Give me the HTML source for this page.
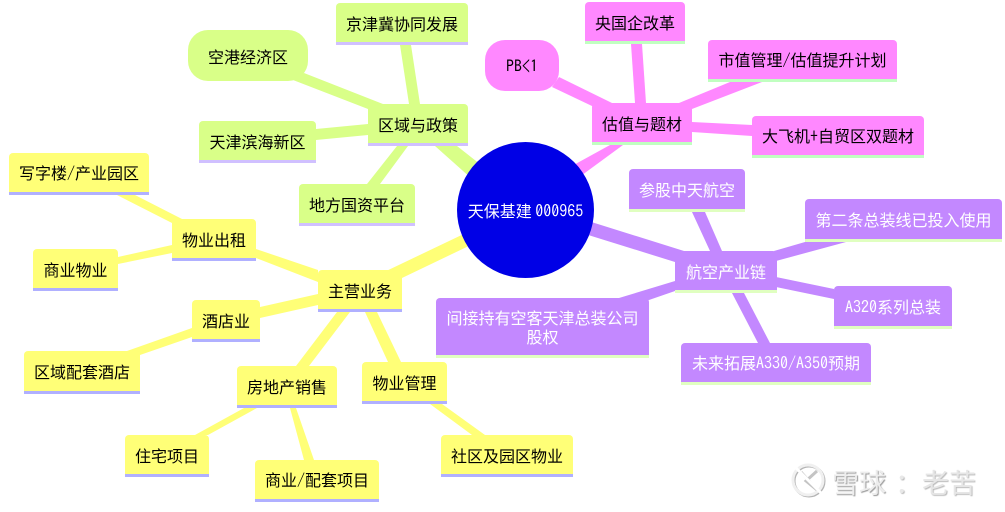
<!DOCTYPE html>
<html><head><meta charset="utf-8">
<style>
html,body{margin:0;padding:0;background:#fff;}
#c{position:relative;width:1005px;height:512px;overflow:hidden;background:#fff;font-family:"WenQuanYi Zen Hei","Noto Sans CJK SC","Liberation Sans",sans-serif;font-size:16px;color:#000;}
svg{position:absolute;left:0;top:0;}
i{font-style:normal;font-family:"IPAGothic","Liberation Mono",monospace;}
.b{position:absolute;box-sizing:border-box;display:flex;align-items:center;justify-content:center;text-align:center;border-radius:4px 4px 0 0;white-space:nowrap;line-height:19px;border-bottom-style:solid;border-bottom-width:3px;padding-top:1px;}
.g{background:#d9ff88;border-bottom-color:#d0c0ff;}
.m{background:#ff88ff;border-bottom-color:#c0ffc0;}
.p{background:#c388ff;border-bottom-color:#e0ffc0;color:#fff;}
.y{background:#ffff77;border-bottom-color:#b0b0ff;}
.r{border-radius:20px;border-bottom:0;}
#hub{position:absolute;left:457px;top:142px;width:137px;height:136px;border-radius:50%;background:#0000e6;color:#fff;display:flex;align-items:center;justify-content:center;white-space:pre;}
.w{position:absolute;font-size:27px;line-height:34px;white-space:nowrap;}
</style></head><body>
<div id="c">
<svg width="1005" height="512" viewBox="0 0 1005 512">
<g fill="#d9ff88">
<polygon points="435,146 457,146 490,172 490,195"/>
<polygon points="400,45 411,45 420,104 409,104"/>
<polygon points="304,73 383,104 368,109 293,80"/>
<polygon points="316,129 368,124 368,135 316,140"/>
<polygon points="367,184 397,146 408,146 380,184"/>
</g>
<g fill="#ff88ff">
<polygon points="570,167 610,145 623,145 578,178"/>
<polygon points="631,44 642,44 646,103 635,103"/>
<polygon points="559,77 612,103 592,106 552,87"/>
<polygon points="730,82 762,82 692,109 679,103"/>
<polygon points="692,122 752,125 752,136 692,132"/>
</g>
<g fill="#c388ff">
<polygon points="585,220 684,251 675,262 585,234"/>
<polygon points="692,212 705,212 722,251 710,251"/>
<polygon points="805,242 846,242 776,261 774,251"/>
<polygon points="776,277 834,289 834,299 776,287"/>
<polygon points="732,293 744,293 770,343 758,343"/>
<polygon points="675,281 675,291 649,300 619,298"/>
</g>
<g fill="#ffff77">
<polygon points="380,274 470,231 475,243 402,278"/>
<polygon points="256,249 318,270 318,282 256,258"/>
<polygon points="135,195 182,219 172,223 117,195"/>
<polygon points="118,257 172,245 172,253 118,264"/>
<polygon points="260,307 318,294 318,305 260,318"/>
<polygon points="127,351 192,328 192,337 140,355"/>
<polygon points="296,366 337,312 350,312 309,366"/>
<polygon points="365,312 377,312 401,362 388,362"/>
<polygon points="195,435 244,408 257,408 208,435"/>
<polygon points="290,408 296,408 314,460 304,460"/>
<polygon points="430,404 442,404 485,435 472,435"/>
</g>
<g fill="none">
<circle cx="809" cy="481" r="15" stroke="#b4b4b4" stroke-width="3"/>
<circle cx="808" cy="480" r="15" stroke="#f0f0f0" stroke-width="3"/>
<path d="M801 472 L815 488 M817 471 L806 481 L817 490" stroke="#c4c4c4" stroke-width="3"/>
<path d="M794 466 L822 494" stroke="#fff" stroke-width="3"/>
</g>
</svg>

<div class="b g" style="left:336px;top:3px;width:132px;height:42px;">京津冀协同发展</div>
<div class="b g r" style="left:188px;top:30px;width:120px;height:51px;">空港经济区</div>
<div class="b g" style="left:368px;top:104px;width:100px;height:42px;">区域与政策</div>
<div class="b g" style="left:199px;top:121px;width:117px;height:42px;">天津滨海新区</div>
<div class="b g" style="left:299px;top:184px;width:116px;height:42px;">地方国资平台</div>

<div class="b m" style="left:585px;top:2px;width:100px;height:42px;">央国企改革</div>
<div class="b m r" style="left:485px;top:40px;width:74px;height:51px;"><i>PB&lt;1</i></div>
<div class="b m" style="left:708px;top:40px;width:189px;height:42px;"><span>市值管理<i>/</i>估值提升计划</span></div>
<div class="b m" style="left:592px;top:103px;width:100px;height:42px;">估值与题材</div>
<div class="b m" style="left:752px;top:116px;width:172px;height:42px;"><span>大飞机<i>+</i>自贸区双题材</span></div>

<div class="b p" style="left:629px;top:169px;width:116px;height:43px;">参股中天航空</div>
<div class="b p" style="left:805px;top:199px;width:197px;height:43px;">第二条总装线已投入使用</div>
<div class="b p" style="left:675px;top:251px;width:102px;height:42px;">航空产业链</div>
<div class="b p" style="left:834px;top:286px;width:118px;height:43px;"><span><i>A320</i>系列总装</span></div>
<div class="b p" style="left:681px;top:343px;width:190px;height:42px;"><span>未来拓展<i>A330/A350</i>预期</span></div>
<div class="b p" style="left:436px;top:298px;width:213px;height:60px;"><span>间接持有空客天津总装公司<br>股权</span></div>

<div class="b y" style="left:9px;top:153px;width:140px;height:42px;"><span>写字楼<i>/</i>产业园区</span></div>
<div class="b y" style="left:172px;top:219px;width:84px;height:42px;">物业出租</div>
<div class="b y" style="left:33px;top:249px;width:85px;height:42px;">商业物业</div>
<div class="b y" style="left:192px;top:300px;width:68px;height:42px;">酒店业</div>
<div class="b y" style="left:24px;top:351px;width:116px;height:43px;">区域配套酒店</div>
<div class="b y" style="left:318px;top:270px;width:84px;height:42px;">主营业务</div>
<div class="b y" style="left:237px;top:366px;width:100px;height:42px;">房地产销售</div>
<div class="b y" style="left:362px;top:362px;width:85px;height:42px;">物业管理</div>
<div class="b y" style="left:125px;top:435px;width:84px;height:42px;">住宅项目</div>
<div class="b y" style="left:255px;top:460px;width:124px;height:42px;"><span>商业<i>/</i>配套项目</span></div>
<div class="b y" style="left:441px;top:435px;width:132px;height:42px;">社区及园区物业</div>

<div id="hub"><span>天保基建 <i>000965</i></span></div>
<div class="w" style="left:832px;top:465px;color:#ededed;text-shadow:1px 1px 1px #999;">雪球</div>
<div class="w" style="left:895px;top:465px;color:#e8e8e8;text-shadow:1px 1px 1px #bbb;">：</div>
<div class="w" style="left:922px;top:465px;color:#e6e6e6;text-shadow:1px 1px 1px #bbb;">老苦</div>
</div>
</body></html>
